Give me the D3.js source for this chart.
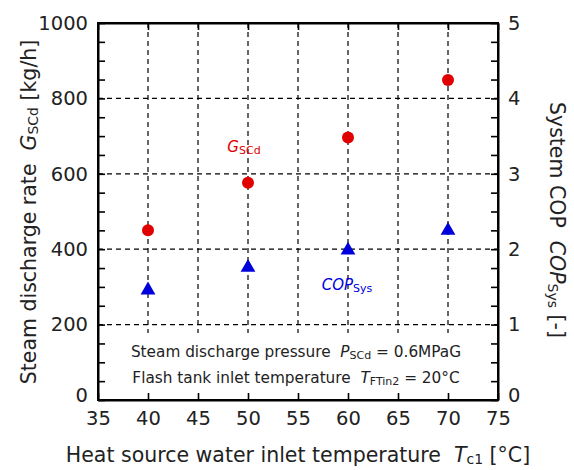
<!DOCTYPE html>
<html><head><meta charset="utf-8">
<script src="https://cdn.jsdelivr.net/npm/d3@7"></script>
<style>body{margin:0;background:#fff}svg{display:block;font-family:"DejaVu Sans",Verdana,sans-serif}</style>
</head><body>
<svg id="c" width="574" height="470"></svg>
<script>
const temps = [40, 50, 60, 70];
const gscd = [450, 576, 696, 849];
const cop = [1.47, 1.77, 2.0, 2.26];
const xTicks = [35, 40, 45, 50, 55, 60, 65, 70, 75];
const yLeftTicks = [0, 200, 400, 600, 800, 1000];
const yRightTicks = [0, 1, 2, 3, 4, 5];

const svg = d3.select("#c");
const L = 98, R = 498, T = 23, B = 400;
const x = d3.scaleLinear().domain([35, 75]).range([L, R]);
const yL = d3.scaleLinear().domain([0, 1000]).range([B, T]);
const yR = d3.scaleLinear().domain([0, 5]).range([B, T]);
const SP = "\u00a0\u00a0";

// grid
const g = svg.append("g").attr("stroke", "#000").attr("stroke-width", 1.2).attr("stroke-dasharray", "5,4");
g.selectAll("line.v").data(xTicks.slice(1, -1)).join("line")
  .attr("x1", d => x(d)).attr("x2", d => x(d)).attr("y1", T).attr("y2", B);
g.selectAll("line.h").data(yLeftTicks.slice(1, -1)).join("line")
  .attr("x1", L).attr("x2", R).attr("y1", d => yL(d)).attr("y2", d => yL(d));

// white annotation band
svg.append("rect").attr("x", L + 1).attr("y", 333).attr("width", R - L - 2).attr("height", B - 334).attr("fill", "#fff");

// axes
const fs = 19.5;
const axB = svg.append("g").attr("transform", `translate(0,${B})`)
  .call(d3.axisBottom(x).tickValues(xTicks).tickSizeInner(-7).tickSizeOuter(0).tickPadding(11).tickFormat(d3.format("d")));
const axT = svg.append("g").attr("transform", `translate(0,${T})`)
  .call(d3.axisTop(x).tickValues(xTicks).tickSizeInner(-7).tickSizeOuter(0).tickFormat(""));
const minorL = d3.range(0, 1001, 50);
const axL = svg.append("g").attr("transform", `translate(${L},0)`)
  .call(d3.axisLeft(yL).tickValues(minorL).tickSizeInner(-7).tickSizeOuter(0).tickPadding(10)
    .tickFormat(d => yLeftTicks.includes(d) ? d : ""));
const minorR = d3.range(0, 5.001, 0.25);
const axR = svg.append("g").attr("transform", `translate(${R},0)`)
  .call(d3.axisRight(yR).tickValues(minorR).tickSizeInner(-7).tickSizeOuter(0).tickPadding(10)
    .tickFormat(d => Math.abs(d - Math.round(d)) < 1e-9 ? d3.format("d")(d) : ""));
[axB, axT, axL, axR].forEach(a => {
  a.select(".domain").attr("stroke", "#000").attr("stroke-width", 2);
  a.selectAll(".tick line").attr("stroke", "#000").attr("stroke-width", 1.6);
  a.selectAll(".tick text").attr("font-size", fs).attr("fill", "#222").attr("font-family", "DejaVu Sans, Verdana, sans-serif");
});
axL.selectAll(".tick text").attr("dy", d => d === 0 ? "0.1em" : "0.32em");
axR.selectAll(".tick text").attr("dy", d => d === 0 ? "0.1em" : "0.32em");
svg.append("rect").attr("x", L).attr("y", T).attr("width", R - L).attr("height", B - T)
  .attr("fill", "none").attr("stroke", "#000").attr("stroke-width", 2);

// markers
svg.append("g").selectAll("circle").data(temps).join("circle")
  .attr("cx", d => x(d)).attr("cy", (d, i) => yL(gscd[i])).attr("r", 6).attr("fill", "#e00000");
const tri = d3.symbol().type(d3.symbolTriangle).size(95);
svg.append("g").selectAll("path").data(temps).join("path")
  .attr("d", tri).attr("transform", (d, i) => `translate(${x(d)},${yR(cop[i]) + 1})`).attr("fill", "#0000dd");

// series labels
const lab1 = svg.append("text").attr("x", 244).attr("y", 152).attr("text-anchor", "middle").attr("fill", "#e00000").attr("font-size", 15);
lab1.append("tspan").attr("font-style", "italic").text("G");
lab1.append("tspan").attr("font-size", 11).attr("dy", 2).text("SCd");
const lab2 = svg.append("text").attr("x", 347).attr("y", 290).attr("text-anchor", "middle").attr("fill", "#0000dd").attr("font-size", 15);
lab2.append("tspan").attr("font-style", "italic").text("COP");
lab2.append("tspan").attr("font-size", 11).attr("dy", 2).text("Sys");

// annotation
const afs = 15.3;
const a1 = svg.append("text").attr("x", 296).attr("y", 357).attr("text-anchor", "middle").attr("fill", "#222").attr("font-size", afs);
a1.append("tspan").text("Steam discharge pressure" + SP);
a1.append("tspan").attr("font-style", "italic").text("P");
a1.append("tspan").attr("font-size", 11).attr("dy", 2).text("SCd");
a1.append("tspan").attr("dy", -2).text(" = 0.6MPaG");
const a2 = svg.append("text").attr("x", 296).attr("y", 383).attr("text-anchor", "middle").attr("fill", "#222").attr("font-size", afs);
a2.append("tspan").text("Flash tank inlet temperature" + SP);
a2.append("tspan").attr("font-style", "italic").text("T");
a2.append("tspan").attr("font-size", 11).attr("dy", 2).text("FTin2");
a2.append("tspan").attr("dy", -2).text(" = 20°C");

// axis titles
const tfs = 20.5;
const xt = svg.append("text").attr("x", 298).attr("y", 462).attr("text-anchor", "middle").attr("fill", "#222").attr("font-size", tfs);
xt.append("tspan").text("Heat source water inlet temperature" + SP);
xt.append("tspan").attr("font-style", "italic").text("T");
xt.append("tspan").attr("font-size", 14).attr("dy", 2).text("c1");
xt.append("tspan").attr("dy", -2).text(" [°C]");

const ylt = svg.append("text").attr("transform", "translate(36,212) rotate(-90)").attr("text-anchor", "middle").attr("fill", "#222").attr("font-size", tfs);
ylt.append("tspan").text("Steam discharge rate" + SP);
ylt.append("tspan").attr("font-style", "italic").text("G");
ylt.append("tspan").attr("font-size", 14).attr("dy", 2).text("SCd");
ylt.append("tspan").attr("dy", -2).text(" [kg/h]");

const yrt = svg.append("text").attr("transform", "translate(550,220) rotate(90)").attr("text-anchor", "middle").attr("fill", "#222").attr("font-size", tfs);
yrt.append("tspan").text("System COP" + SP);
yrt.append("tspan").attr("font-style", "italic").text("COP");
yrt.append("tspan").attr("font-size", 14).attr("dy", 2).text("Sys");
yrt.append("tspan").attr("dy", -2).text(" [-]");
</script>
</body></html>
